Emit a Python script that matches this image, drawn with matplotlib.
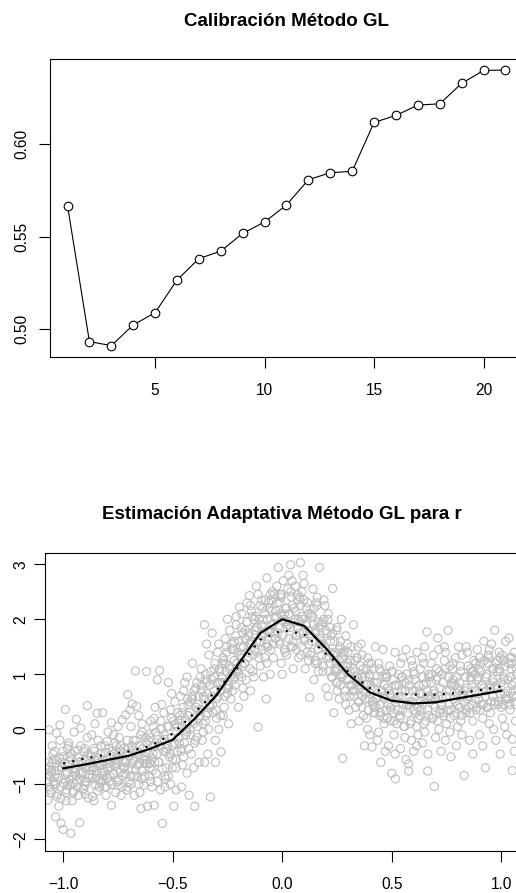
import matplotlib.pyplot as plt

plt.rcParams['font.family'] = ['Liberation Sans', 'DejaVu Sans']

# Calibración: error según el número de vecinos
k_vals = list(range(1, 22))
cal_err = [0.5667, 0.4930, 0.4908, 0.5020, 0.5087, 0.5264, 0.5380, 0.5421,
           0.5517, 0.5579, 0.5671, 0.5808, 0.5846, 0.5854, 0.6119, 0.6157,
           0.6213, 0.6220, 0.6331, 0.6401, 0.6403]

# Estimación: rejilla y las dos curvas (estimada sólida, punteada)
x_grid = [-1.0, -0.9, -0.8, -0.7, -0.6, -0.5, -0.4, -0.3, -0.2, -0.1, 0.0,
          0.1, 0.2, 0.3, 0.4, 0.5, 0.6, 0.7, 0.8, 0.9, 1.0]
est_solid = [-0.71, -0.64, -0.56, -0.48, -0.35, -0.19, 0.19, 0.62, 1.19, 1.75, 2.0,
             1.88, 1.47, 1.0, 0.67, 0.52, 0.47, 0.49, 0.56, 0.63, 0.70]
est_dotted = [-0.62, -0.53, -0.46, -0.40, -0.30, -0.08, 0.30, 0.71, 1.13, 1.63, 1.80,
              1.73, 1.37, 1.05, 0.75, 0.65, 0.63, 0.63, 0.66, 0.71, 0.78]

# Nube de puntos (aproximada)
pts_left = [
    (-1.07, -1.29), (-1.065, -0.01), (-1.06, -0.85), (-1.055, -1.15), (-1.05, -0.62), (-1.045, -0.95),
    (-1.04, -0.40), (-1.035, -1.59), (-1.03, -0.07), (-1.07, -0.72), (-1.06, -1.05), (-1.05, -0.30),
    (-1.04, -0.88), (-1.03, -1.22), (-1.045, -0.55), (-1.055, -0.78), (-1.035, -1.00),
    (-1.02, -1.40), (-1.015, 0.08), (-1.01, -1.71), (-1.005, -0.60), (-1.0, -1.82), (-0.995, -0.90),
    (-0.99, 0.36), (-0.985, -1.10), (-0.98, -0.35), (-1.02, -0.75), (-1.01, -1.25), (-1.0, -0.50),
    (-0.99, -0.82), (-0.98, -1.02), (-1.015, -0.20), (-1.005, -0.68), (-0.985, -1.30),
    (-0.97, -0.92), (-0.965, -1.89), (-0.96, -0.45), (-0.955, -1.15), (-0.95, -0.05), (-0.945, -0.78),
    (-0.94, 0.18), (-0.935, -1.05), (-0.93, -0.60), (-0.975, -0.25), (-0.96, -1.30), (-0.95, -0.70),
    (-0.94, -0.85), (-0.93, -1.20), (-0.97, -0.50), (-0.955, -0.98), (-0.935, -0.38),
    (-0.925, -1.70), (-0.92, 0.02), (-0.915, -0.80), (-0.91, -1.10), (-0.905, -0.40), (-0.90, -0.95),
    (-0.895, -0.55), (-0.89, 0.43), (-0.885, -1.25), (-0.88, -0.70), (-0.92, -0.30), (-0.91, -0.62),
    (-0.90, -1.02), (-0.89, -0.15), (-0.88, -0.88), (-0.875, -0.48), (-0.90, -1.18),
    (-0.87, -0.75), (-0.865, -1.22), (-0.86, -0.35), (-0.855, 0.10), (-0.85, -0.90), (-0.845, 0.29),
    (-0.84, -0.62), (-0.835, -1.05), (-0.83, -0.45), (-0.825, -0.80), (-0.87, -0.10), (-0.86, -1.30),
    (-0.85, -0.58), (-0.84, -0.20), (-0.83, -0.95), (-0.86, -0.70), (-0.845, -1.12),
    (-0.82, 0.30), (-0.815, -0.85), (-0.81, -0.30), (-0.805, -1.20), (-0.80, -0.55), (-0.795, -0.05),
    (-0.79, -0.95), (-0.785, -0.68), (-0.78, -1.38), (-0.775, -0.40), (-0.82, -0.75), (-0.81, -1.05),
    (-0.80, -0.22), (-0.79, -0.62), (-0.78, 0.12), (-0.80, -0.88), (-0.785, -0.48),
    (-0.77, -0.80), (-0.765, -0.25), (-0.76, -1.15), (-0.755, -0.55), (-0.75, 0.05), (-0.745, -0.92),
    (-0.74, -0.40), (-0.735, -1.20), (-0.73, 0.17), (-0.725, -0.70), (-0.77, -0.10), (-0.76, -0.62),
    (-0.75, -1.02), (-0.74, -0.30), (-0.73, -0.85), (-0.755, -0.48), (-0.745, -0.15),
    (-0.72, -0.60), (-0.715, 0.26), (-0.71, -1.10), (-0.705, 0.63), (-0.70, -0.35), (-0.695, 0.35),
    (-0.69, -0.85), (-0.685, 0.46), (-0.68, -0.20), (-0.675, -1.20), (-0.72, -0.70), (-0.71, -0.45),
    (-0.70, -0.95), (-0.69, 0.05), (-0.68, -0.58), (-0.705, -1.05), (-0.685, -0.30),
]
pts_rise = [
    (-0.67, 1.06), (-0.665, 0.42), (-0.66, -0.65), (-0.655, -1.00), (-0.65, -0.30), (-0.645, -1.44),
    (-0.64, 0.10), (-0.635, -0.55), (-0.63, -0.85), (-0.625, -0.15), (-0.67, -0.75), (-0.66, -0.40),
    (-0.65, -1.15), (-0.64, -0.05), (-0.63, -0.62), (-0.655, 0.25), (-0.64, -0.90),
    (-0.62, 1.05), (-0.615, -1.40), (-0.61, -0.20), (-0.605, -0.70), (-0.60, 0.15), (-0.595, -1.05),
    (-0.59, -0.45), (-0.585, -1.38), (-0.58, 0.40), (-0.575, -0.80), (-0.62, -0.55), (-0.61, -0.10),
    (-0.60, -0.95), (-0.59, 0.05), (-0.58, -0.30), (-0.605, -0.62), (-0.585, 0.20),
    (-0.57, 0.90), (-0.565, -0.60), (-0.56, 1.07), (-0.555, -1.10), (-0.55, -0.20), (-0.547, -1.71),
    (-0.54, 0.30), (-0.535, -0.85), (-0.53, -0.40), (-0.525, 0.05), (-0.57, -0.95), (-0.56, -0.30),
    (-0.55, 0.45), (-0.54, -0.10), (-0.53, -0.70), (-0.555, 0.15), (-0.535, -1.05),
    (-0.52, 0.85), (-0.515, -0.50), (-0.51, -1.00), (-0.505, 0.20), (-0.50, -0.30), (-0.495, -1.40),
    (-0.49, 0.50), (-0.485, -0.70), (-0.48, 0.05), (-0.475, -0.15), (-0.52, -0.85), (-0.51, 0.35),
    (-0.50, -0.55), (-0.49, 0.10), (-0.48, -0.40), (-0.505, 0.65), (-0.485, -1.10),
    (-0.47, -0.25), (-0.465, 0.60), (-0.46, -1.05), (-0.455, 0.30), (-0.45, -0.50), (-0.445, 0.85),
    (-0.44, 0.00), (-0.435, -0.80), (-0.43, 0.45), (-0.425, -1.20), (-0.47, 0.15), (-0.46, -0.35),
    (-0.45, 0.70), (-0.44, -0.10), (-0.43, 0.25), (-0.455, -0.65), (-0.435, 0.95),
    (-0.42, 0.50), (-0.415, -0.45), (-0.41, 1.20), (-0.405, 0.10), (-0.40, -1.40), (-0.395, 0.75),
    (-0.39, -0.15), (-0.385, 0.35), (-0.38, -0.60), (-0.375, 0.95), (-0.42, 0.00), (-0.41, 0.60),
    (-0.40, -0.25), (-0.39, 0.85), (-0.38, 0.20), (-0.405, -0.70), (-0.385, 0.45),
    (-0.37, 1.10), (-0.365, -0.20), (-0.36, 0.60), (-0.355, 1.90), (-0.35, 0.15), (-0.345, 0.85),
    (-0.34, -0.45), (-0.335, 1.35), (-0.33, 0.40), (-0.328, -1.23), (-0.37, 0.70), (-0.36, -0.05),
    (-0.35, 1.00), (-0.34, 0.30), (-0.33, 0.80), (-0.355, -0.60), (-0.345, 1.55),
    (-0.32, 1.75), (-0.315, 0.30), (-0.31, 1.10), (-0.305, -0.60), (-0.30, 0.55), (-0.295, 1.40),
    (-0.29, 0.00), (-0.285, 0.85), (-0.28, -0.41), (-0.275, 1.20), (-0.32, 0.60), (-0.31, 0.95),
    (-0.30, 0.20), (-0.29, 1.55), (-0.28, 0.70), (-0.305, -0.20), (-0.285, 1.05),
    (-0.27, 1.30), (-0.265, 0.40), (-0.26, 1.65), (-0.255, 0.75), (-0.25, 2.00), (-0.245, 0.10),
    (-0.24, 1.10), (-0.235, 0.55), (-0.23, 1.45), (-0.225, 0.90), (-0.27, 0.25), (-0.26, 1.20),
    (-0.25, 0.65), (-0.24, 1.80), (-0.23, 1.00), (-0.255, 1.50), (-0.245, 0.80),
    (-0.22, 1.60), (-0.215, 0.80), (-0.21, 2.05), (-0.205, 1.10), (-0.20, 0.40), (-0.195, 2.22),
    (-0.19, 1.35), (-0.185, 0.95), (-0.18, 1.75), (-0.175, 0.60), (-0.22, 1.25), (-0.21, 1.90),
    (-0.20, 1.00), (-0.19, 1.50), (-0.18, 0.75), (-0.205, 1.40), (-0.185, 2.10),
]
pts_peak = [
    (-0.17, 1.80), (-0.165, 0.90), (-0.16, 2.30), (-0.155, 1.30), (-0.15, 2.43), (-0.145, 0.70),
    (-0.14, 1.60), (-0.135, 1.05), (-0.13, 2.00), (-0.125, 1.45), (-0.17, 1.20), (-0.16, 1.95),
    (-0.15, 1.55), (-0.14, 2.15), (-0.13, 0.95), (-0.155, 1.70), (-0.145, 2.25),
    (-0.118, 2.60), (-0.115, 1.40), (-0.11, 0.04), (-0.105, 2.00), (-0.10, 1.15), (-0.095, 2.35),
    (-0.09, 1.70), (-0.085, 0.95), (-0.08, 2.10), (-0.075, 1.50), (-0.073, 0.55), (-0.12, 1.85),
    (-0.11, 2.45), (-0.10, 1.60), (-0.09, 2.20), (-0.08, 1.30), (-0.095, 1.90),
    (-0.07, 2.75), (-0.065, 1.50), (-0.06, 2.20), (-0.055, 1.00), (-0.05, 1.90), (-0.045, 2.50),
    (-0.04, 1.30), (-0.035, 2.05), (-0.03, 1.65), (-0.025, 2.60), (-0.07, 1.20), (-0.06, 1.80),
    (-0.05, 2.35), (-0.04, 1.55), (-0.03, 2.15), (-0.055, 2.45), (-0.035, 1.75),
    (-0.018, 2.94), (-0.015, 1.60), (-0.01, 2.30), (-0.005, 1.20), (0.00, 2.05), (0.005, 2.70),
    (0.01, 1.45), (0.015, 2.20), (0.02, 1.85), (0.025, 2.55), (-0.02, 1.75), (-0.01, 2.45),
    (0.00, 1.00), (0.01, 2.10), (0.02, 1.35), (-0.005, 2.40), (0.015, 1.95),
    (0.03, 2.80), (0.038, 2.99), (0.04, 1.50), (0.045, 2.25), (0.05, 1.10), (0.055, 2.00),
    (0.06, 2.60), (0.065, 1.70), (0.07, 2.35), (0.075, 1.30), (0.03, 1.90), (0.04, 2.50),
    (0.05, 1.60), (0.06, 2.15), (0.07, 1.85), (0.045, 2.70), (0.065, 1.45),
    (0.08, 2.40), (0.083, 3.03), (0.085, 1.35), (0.09, 2.05), (0.095, 1.75), (0.10, 2.65),
    (0.105, 1.10), (0.11, 1.90), (0.115, 2.30), (0.12, 1.55), (0.125, 0.58), (0.08, 1.95),
    (0.09, 2.50), (0.10, 1.60), (0.11, 2.20), (0.12, 1.25), (0.095, 2.80),
    (0.13, 2.10), (0.135, 1.40), (0.14, 2.55), (0.145, 0.90), (0.15, 1.80), (0.155, 2.30),
    (0.16, 1.20), (0.165, 1.95), (0.17, 2.94), (0.175, 1.55), (0.13, 1.70), (0.14, 2.05),
    (0.15, 1.25), (0.16, 2.40), (0.17, 1.65), (0.145, 2.20), (0.165, 1.05),
]
pts_fall = [
    (0.18, 1.90), (0.185, 1.05), (0.19, 2.35), (0.195, 1.50), (0.20, 0.75), (0.205, 1.75),
    (0.21, 2.10), (0.215, 1.20), (0.22, 1.60), (0.225, 0.95), (0.18, 1.35), (0.19, 2.00),
    (0.20, 1.45), (0.21, 0.60), (0.22, 1.85), (0.195, 2.25), (0.215, 1.30),
    (0.23, 2.56), (0.235, 0.30), (0.24, 1.40), (0.245, 0.85), (0.25, 1.85), (0.255, 1.10),
    (0.26, 0.55), (0.265, 1.60), (0.27, 0.95), (0.275, 1.30), (0.23, 1.75), (0.24, 1.05),
    (0.25, 0.70), (0.26, 1.45), (0.27, 2.00), (0.245, 1.20), (0.265, 0.80),
    (0.276, -0.53), (0.28, 1.35), (0.285, 0.60), (0.29, 1.70), (0.295, 0.90), (0.30, 1.20),
    (0.305, 0.35), (0.31, 1.05), (0.315, 1.50), (0.32, 0.70), (0.325, 1.90), (0.28, 1.00),
    (0.29, 0.45), (0.30, 1.40), (0.31, 0.80), (0.295, 1.15), (0.315, 0.10),
    (0.33, 1.25), (0.335, 0.40), (0.34, 0.95), (0.345, 1.50), (0.35, 0.15), (0.355, 0.80),
    (0.36, 1.55), (0.365, 0.60), (0.37, 1.10), (0.375, -0.30), (0.33, 0.70), (0.34, 1.30),
    (0.35, 0.50), (0.36, 1.00), (0.37, 0.25), (0.345, 0.85), (0.365, 1.35),
    (0.38, 0.95), (0.385, 0.20), (0.39, 1.30), (0.395, 0.55), (0.40, -0.10), (0.405, 0.80),
    (0.41, -0.32), (0.415, 1.10), (0.42, 0.40), (0.425, 1.50), (0.38, 0.65), (0.39, 0.00),
    (0.40, 1.00), (0.41, 0.75), (0.42, 0.30), (0.395, 1.20), (0.415, 0.50),
    (0.43, 0.85), (0.435, -0.20), (0.44, 1.20), (0.445, 0.45), (0.45, -0.60), (0.455, 0.70),
    (0.46, 1.45), (0.465, 0.10), (0.47, 0.95), (0.475, 0.35), (0.43, 0.55), (0.44, -0.05),
    (0.45, 1.05), (0.46, 0.60), (0.47, -0.40), (0.445, 0.25), (0.465, 0.80),
]
pts_right = [
    (0.48, 0.75), (0.485, -0.30), (0.49, 1.15), (0.495, 0.40), (0.50, -0.80), (0.505, 0.90),
    (0.51, 0.15), (0.515, 1.40), (0.517, -0.90), (0.52, 0.55), (0.48, 0.20), (0.49, 0.65),
    (0.50, 1.05), (0.51, -0.10), (0.52, 0.80), (0.495, 0.35), (0.515, -0.45),
    (0.53, 1.00), (0.535, 0.25), (0.54, -0.35), (0.545, 0.70), (0.55, 1.30), (0.555, 0.05),
    (0.56, 0.85), (0.565, -0.55), (0.57, 0.45), (0.577, -0.63), (0.577, -0.76), (0.53, 0.60),
    (0.54, 1.20), (0.55, 0.35), (0.56, -0.15), (0.545, 0.95), (0.565, 1.45),
    (0.58, 0.80), (0.585, 0.10), (0.59, 1.25), (0.595, 0.50), (0.60, -0.40), (0.605, 0.90),
    (0.61, 0.30), (0.615, 1.40), (0.62, -0.10), (0.625, 0.65), (0.58, 0.45), (0.59, -0.20),
    (0.60, 1.05), (0.61, 0.70), (0.62, 0.20), (0.595, 1.15), (0.615, -0.30),
    (0.63, 1.10), (0.635, 0.35), (0.64, -0.25), (0.645, 0.80), (0.65, 1.50), (0.655, 0.15),
    (0.661, 1.77), (0.664, -0.76), (0.665, 0.60), (0.67, 0.95), (0.63, 0.50), (0.64, 1.30),
    (0.65, -0.05), (0.66, 0.70), (0.67, 0.25), (0.645, 1.20), (0.665, -0.45),
    (0.68, 0.85), (0.685, 0.20), (0.69, 1.35), (0.694, -1.04), (0.70, 0.55), (0.705, 1.10),
    (0.71, 1.66), (0.715, 0.00), (0.72, 0.75), (0.725, -0.40), (0.68, 1.20), (0.69, 0.45),
    (0.70, -0.15), (0.71, 0.95), (0.72, 0.30), (0.695, 0.65), (0.715, 1.45),
    (0.73, 1.00), (0.735, 0.30), (0.74, 1.50), (0.745, -0.20), (0.75, 0.70), (0.757, 1.80),
    (0.76, 0.45), (0.765, 1.15), (0.77, -0.50), (0.775, 0.85), (0.73, 0.55), (0.74, 1.25),
    (0.75, 0.10), (0.76, 0.95), (0.77, 0.35), (0.745, 1.40), (0.765, -0.05),
    (0.78, 0.90), (0.785, 0.25), (0.79, 1.30), (0.795, -0.30), (0.80, 0.75), (0.805, 1.50),
    (0.81, 0.40), (0.815, 1.05), (0.82, -0.10), (0.825, 0.60), (0.78, 1.20), (0.79, 0.50),
    (0.80, 0.05), (0.81, 0.85), (0.82, 1.35), (0.795, 0.65), (0.815, 0.15),
    (0.83, -0.84), (0.835, 0.95), (0.84, 0.30), (0.845, 1.40), (0.85, 0.60), (0.855, -0.20),
    (0.86, 1.10), (0.865, 0.80), (0.87, 0.15), (0.875, 1.25), (0.83, 0.70), (0.84, 1.50),
    (0.85, 0.40), (0.86, 0.95), (0.87, -0.45), (0.845, 0.55), (0.865, 1.05),
    (0.88, 1.00), (0.885, 0.35), (0.89, 1.45), (0.895, 0.65), (0.90, -0.10), (0.905, 1.20),
    (0.91, 0.80), (0.915, 0.20), (0.92, 1.60), (0.927, -0.70), (0.88, 0.55), (0.89, 0.90),
    (0.90, 1.30), (0.91, 0.45), (0.92, 0.75), (0.895, 1.10), (0.915, -0.30),
    (0.93, 0.95), (0.935, 0.40), (0.94, 1.35), (0.945, 0.10), (0.95, 0.80), (0.955, 1.55),
    (0.96, 0.60), (0.965, 1.10), (0.97, 1.80), (0.975, -0.20), (0.93, 0.70), (0.94, 1.20),
    (0.95, 0.30), (0.96, 0.90), (0.97, 0.50), (0.945, 1.45), (0.965, 0.00),
    (0.98, 1.05), (0.985, 0.45), (0.99, 1.40), (0.995, -0.45), (1.00, 0.85), (1.005, 0.20),
    (1.01, 1.25), (1.015, 0.65), (1.02, 1.60), (1.025, -0.10), (0.98, 0.75), (0.99, 1.10),
    (1.00, 0.40), (1.01, 0.95), (1.02, 0.55), (0.995, 1.30), (1.015, 0.05),
    (1.03, 0.90), (1.035, 1.66), (1.04, 0.35), (1.045, 1.20), (1.05, -0.18), (1.05, -0.75),
    (1.055, 0.70), (1.06, 1.40), (1.065, 0.15), (1.07, 1.00), (1.03, 0.55), (1.04, 1.30),
    (1.05, 0.80), (1.06, -0.40), (1.07, 0.60), (1.045, 1.10), (1.065, 0.45),
]
# núcleo denso de la nube
pts_core = [
    (-1.072, -0.95), (-1.066, -0.60), (-1.058, -1.10), (-1.052, -0.75), (-1.047, -0.45),
    (-1.041, -1.00), (-1.036, -0.82), (-1.031, -0.55), (-1.027, -1.18), (-1.062, -0.68),
    (-1.022, -0.88), (-1.017, -0.52), (-1.012, -1.05), (-1.008, -0.70), (-1.002, -0.40),
    (-0.997, -0.98), (-0.992, -0.62), (-0.987, -1.15), (-0.982, -0.80), (-0.977, -0.30),
    (-0.972, -0.65), (-0.968, -1.02), (-0.962, -0.55), (-0.957, -0.85), (-0.952, -1.12),
    (-0.947, -0.40), (-0.942, -0.72), (-0.938, -0.95), (-0.932, -0.50), (-0.927, -0.80),
    (-0.922, -0.90), (-0.918, -0.58), (-0.912, -0.78), (-0.907, -1.08), (-0.902, -0.35),
    (-0.897, -0.70), (-0.892, -0.95), (-0.887, -0.45), (-0.882, -0.82), (-0.878, -0.62),
    (-0.872, -0.50), (-0.868, -0.88), (-0.862, -0.68), (-0.857, -0.40), (-0.852, -1.02),
    (-0.847, -0.75), (-0.842, -0.52), (-0.838, -0.92), (-0.832, -0.65), (-0.827, -0.30),
    (-0.822, -0.95), (-0.818, -0.58), (-0.812, -0.78), (-0.807, -0.42), (-0.802, -1.05),
    (-0.797, -0.70), (-0.792, -0.35), (-0.787, -0.85), (-0.782, -0.60), (-0.777, -1.00),
    (-0.772, -0.45), (-0.768, -0.82), (-0.762, -0.65), (-0.757, -0.30), (-0.752, -0.95),
    (-0.747, -0.58), (-0.742, -0.78), (-0.738, -0.40), (-0.732, -1.05), (-0.727, -0.55),
    (-0.722, -0.35), (-0.718, -0.80), (-0.712, -0.60), (-0.707, -0.20), (-0.702, -0.72),
    (-0.697, -0.48), (-0.692, -1.00), (-0.687, -0.62), (-0.682, -0.38), (-0.677, -0.85),
    (-0.672, -0.55), (-0.668, -0.20), (-0.662, -0.85), (-0.657, -0.45), (-0.652, -0.62),
    (-0.647, -0.10), (-0.642, -0.75), (-0.637, -0.35), (-0.632, -1.02), (-0.627, -0.50),
    (-0.622, -0.25), (-0.618, -0.62), (-0.612, -0.45), (-0.607, -0.85), (-0.602, -0.15),
    (-0.597, -0.52), (-0.592, -0.75), (-0.587, -0.30), (-0.582, -0.60), (-0.577, -0.05),
    (-0.572, -0.45), (-0.568, -0.12), (-0.562, -0.60), (-0.557, -0.30), (-0.552, 0.00),
    (-0.547, -0.72), (-0.542, -0.40), (-0.537, -0.18), (-0.532, -0.90), (-0.527, -0.35),
    (-0.522, -0.30), (-0.518, 0.05), (-0.512, -0.45), (-0.507, -0.15), (-0.502, -0.70),
    (-0.497, 0.15), (-0.492, -0.25), (-0.487, -0.55), (-0.482, -0.05), (-0.477, 0.30),
    (-0.472, -0.15), (-0.468, 0.25), (-0.462, -0.40), (-0.457, 0.05), (-0.452, 0.40),
    (-0.447, -0.25), (-0.442, 0.15), (-0.437, -0.05), (-0.432, 0.55), (-0.427, -0.35),
    (-0.422, 0.30), (-0.418, -0.10), (-0.412, 0.55), (-0.407, 0.15), (-0.402, 0.70),
    (-0.397, -0.20), (-0.392, 0.40), (-0.387, 0.05), (-0.382, 0.60), (-0.377, 0.25),
    (-0.372, 0.35), (-0.368, 0.80), (-0.362, 0.10), (-0.357, 0.55), (-0.352, 0.90),
    (-0.347, 0.25), (-0.342, 0.65), (-0.337, 0.00), (-0.332, 0.45), (-0.327, 1.05),
    (-0.322, 0.90), (-0.318, 0.45), (-0.312, 0.70), (-0.307, 1.20), (-0.302, 0.35),
    (-0.297, 0.85), (-0.292, 0.60), (-0.287, 1.10), (-0.282, 0.25), (-0.277, 0.95),
    (-0.272, 0.85), (-0.268, 1.25), (-0.262, 0.60), (-0.257, 1.05), (-0.252, 1.40),
    (-0.247, 0.75), (-0.242, 1.15), (-0.237, 0.95), (-0.232, 1.55), (-0.227, 0.70),
    (-0.222, 1.45), (-0.218, 0.95), (-0.212, 1.70), (-0.207, 1.20), (-0.202, 1.05),
    (-0.197, 1.60), (-0.192, 1.30), (-0.187, 1.85), (-0.182, 1.15), (-0.177, 1.50),
    (-0.172, 1.20), (-0.168, 1.65), (-0.162, 1.95), (-0.157, 1.40), (-0.152, 1.75),
    (-0.147, 1.10), (-0.142, 1.55), (-0.137, 2.05), (-0.132, 1.35), (-0.127, 1.80),
    (-0.122, 2.05), (-0.118, 1.60), (-0.112, 1.85), (-0.107, 1.30), (-0.102, 2.25),
    (-0.097, 1.70), (-0.092, 1.45), (-0.087, 2.00), (-0.082, 1.75), (-0.077, 2.35),
    (-0.072, 1.55), (-0.068, 2.00), (-0.062, 2.30), (-0.057, 1.75), (-0.052, 1.45),
    (-0.047, 2.15), (-0.042, 1.90), (-0.037, 2.45), (-0.032, 1.65), (-0.027, 2.05),
    (-0.022, 2.30), (-0.018, 1.85), (-0.012, 1.55), (-0.007, 2.10), (-0.002, 2.45),
    (0.003, 1.70), (0.008, 2.00), (0.013, 1.40), (0.018, 2.20), (0.023, 1.90),
    (0.028, 1.65), (0.033, 2.10), (0.038, 1.85), (0.043, 2.40), (0.048, 1.50),
    (0.053, 2.20), (0.058, 1.95), (0.063, 1.70), (0.068, 2.45), (0.073, 2.00),
    (0.078, 1.75), (0.083, 2.25), (0.088, 1.50), (0.093, 2.00), (0.098, 2.35),
    (0.103, 1.65), (0.108, 1.90), (0.113, 1.40), (0.118, 2.10), (0.123, 1.80),
    (0.128, 1.35), (0.133, 2.05), (0.138, 1.60), (0.143, 1.90), (0.148, 1.20),
    (0.153, 1.75), (0.158, 2.25), (0.163, 1.45), (0.168, 1.85), (0.173, 1.55),
    (0.178, 1.60), (0.183, 1.95), (0.188, 1.15), (0.193, 1.50), (0.198, 1.80),
    (0.203, 1.30), (0.208, 2.00), (0.213, 1.05), (0.218, 1.40), (0.223, 1.70),
    (0.228, 0.95), (0.233, 1.35), (0.238, 1.60), (0.243, 1.10), (0.248, 1.80),
    (0.253, 0.85), (0.258, 1.25), (0.263, 1.50), (0.268, 1.00), (0.273, 1.40),
    (0.278, 1.15), (0.283, 1.40), (0.288, 0.70), (0.293, 1.05), (0.298, 1.55),
    (0.303, 0.90), (0.308, 0.60), (0.313, 1.25), (0.318, 0.80), (0.323, 1.10),
    (0.328, 0.60), (0.333, 1.05), (0.338, 0.85), (0.343, 1.30), (0.348, 0.50),
    (0.353, 0.75), (0.358, 1.15), (0.363, 0.40), (0.368, 0.95), (0.373, 0.70),
    (0.378, 0.55), (0.383, 1.10), (0.388, 0.80), (0.393, 0.35), (0.398, 0.95),
    (0.403, 0.65), (0.408, 1.20), (0.413, 0.45), (0.418, 0.85), (0.423, 0.30),
    (0.428, 0.40), (0.433, 0.85), (0.438, 0.60), (0.443, 1.10), (0.448, 0.30),
    (0.453, 0.70), (0.458, 0.95), (0.463, 0.20), (0.468, 0.55), (0.473, 1.00),
    (0.478, 0.95), (0.483, 0.45), (0.488, 0.70), (0.493, 0.15), (0.498, 0.60),
    (0.503, 1.05), (0.508, 0.30), (0.513, 0.80), (0.518, 0.50), (0.523, 0.10),
    (0.528, 0.35), (0.533, 0.80), (0.538, 0.20), (0.543, 0.60), (0.548, 0.95),
    (0.553, 0.45), (0.558, 0.05), (0.563, 0.70), (0.568, 1.00), (0.573, 0.30),
    (0.578, 0.90), (0.583, 0.50), (0.588, 0.15), (0.593, 0.70), (0.598, 0.35),
    (0.603, 1.00), (0.608, 0.60), (0.613, 0.05), (0.618, 0.40), (0.623, 0.80),
    (0.628, 0.25), (0.633, 0.65), (0.638, 0.45), (0.643, 0.95), (0.648, 0.10),
    (0.653, 0.55), (0.658, 0.85), (0.663, 0.35), (0.668, 1.00), (0.673, 0.60),
    (0.678, 0.55), (0.683, 1.00), (0.688, 0.20), (0.693, 0.70), (0.698, 0.40),
    (0.703, 0.90), (0.708, 0.15), (0.713, 0.60), (0.718, 1.05), (0.723, 0.35),
    (0.728, 0.45), (0.733, 0.85), (0.738, 0.25), (0.743, 1.10), (0.748, 0.60),
    (0.753, 0.35), (0.758, 0.95), (0.763, 0.70), (0.768, 0.20), (0.773, 0.80),
    (0.778, 1.10), (0.783, 0.55), (0.788, 0.80), (0.793, 0.30), (0.798, 0.95),
    (0.803, 0.45), (0.808, 0.70), (0.813, 1.15), (0.818, 0.25), (0.823, 0.65),
    (0.828, 0.50), (0.833, 0.95), (0.838, 0.35), (0.843, 0.75), (0.848, 1.15),
    (0.853, 0.60), (0.858, 0.30), (0.863, 0.90), (0.868, 0.45), (0.873, 1.05),
    (0.878, 0.70), (0.883, 1.20), (0.888, 0.40), (0.893, 0.95), (0.898, 0.55),
    (0.903, 0.35), (0.908, 1.05), (0.913, 0.80), (0.918, 0.45), (0.923, 1.25),
    (0.928, 0.60), (0.933, 1.00), (0.938, 0.40), (0.943, 1.30), (0.948, 0.75),
    (0.953, 0.50), (0.958, 1.10), (0.963, 0.85), (0.968, 0.45), (0.973, 1.20),
    (0.978, 0.80), (0.983, 1.25), (0.988, 0.50), (0.993, 1.05), (0.998, 0.65),
    (1.003, 1.35), (1.008, 0.45), (1.013, 0.90), (1.018, 1.15), (1.023, 0.60),
    (1.028, 0.70), (1.033, 1.20), (1.038, 0.45), (1.043, 0.95), (1.048, 1.30),
    (1.053, 0.60), (1.058, 0.85), (1.063, 0.50), (1.068, 1.10), (1.073, 0.75),
]

W, H = 516, 893
fig = plt.figure(figsize=(W / 100, H / 100), dpi=100)


def estilo_r(ax):
    for s in ax.spines.values():
        s.set_linewidth(0.8)
    ax.tick_params(direction='out', length=7.6, width=0.8, labelsize=11.2)
    ax.tick_params(axis='x', pad=11.5)
    ax.tick_params(axis='y', pad=4.5)
    for lab in ax.get_yticklabels():
        lab.set_rotation(90)
        lab.set_va('center')


# --- panel superior ---
ax1 = fig.add_axes([50 / W, 1 - 356.7 / H, 473 / W, 297.7 / H])
ax1.plot(k_vals, cal_err, color='black', lw=0.8, marker='o', ms=6.2,
         mfc='white', mec='black', mew=0.8)
ax1.set_xlim(0.2, 21.8)
ax1.set_ylim(0.4848, 0.6463)
ax1.set_xticks([5, 10, 15, 20])
ax1.set_yticks([0.50, 0.55, 0.60])
ax1.set_yticklabels(['0.50', '0.55', '0.60'])
estilo_r(ax1)
ax1.tick_params(axis='y', pad=7.5)
ax1.set_title('Calibración Método GL', fontsize=13.5, fontweight='bold', pad=24)

# --- panel inferior ---
sx, sy = [], []
for grupo in (pts_left, pts_rise, pts_peak, pts_fall, pts_right, pts_core):
    for px, py in grupo:
        sx.append(px)
        sy.append(py)

ax2 = fig.add_axes([45 / W, 1 - 850.7 / H, 474.5 / W, 298 / H])
ax2.scatter(sx, sy, s=34, facecolors='none', edgecolors='#BEBEBE', linewidths=0.8)
ax2.plot(x_grid, est_solid, color='black', lw=1.6)
ax2.plot(x_grid, est_dotted, color='black', lw=1.6, linestyle=(0, (0.9, 3.3)))
ax2.set_xlim(-1.083, 1.083)
ax2.set_ylim(-2.207, 3.21)
ax2.set_xticks([-1.0, -0.5, 0.0, 0.5, 1.0])
ax2.set_xticklabels(['\u22121.0', '\u22120.5', '0.0', '0.5', '1.0'])
ax2.set_yticks([-2, -1, 0, 1, 2, 3])
ax2.set_yticklabels(['\u22122', '\u22121', '0', '1', '2', '3'])
estilo_r(ax2)
ax2.set_title('Estimación Adaptativa Método GL para r', fontsize=13.5,
              fontweight='bold', pad=24)

fig.savefig('out.png', dpi=100)
